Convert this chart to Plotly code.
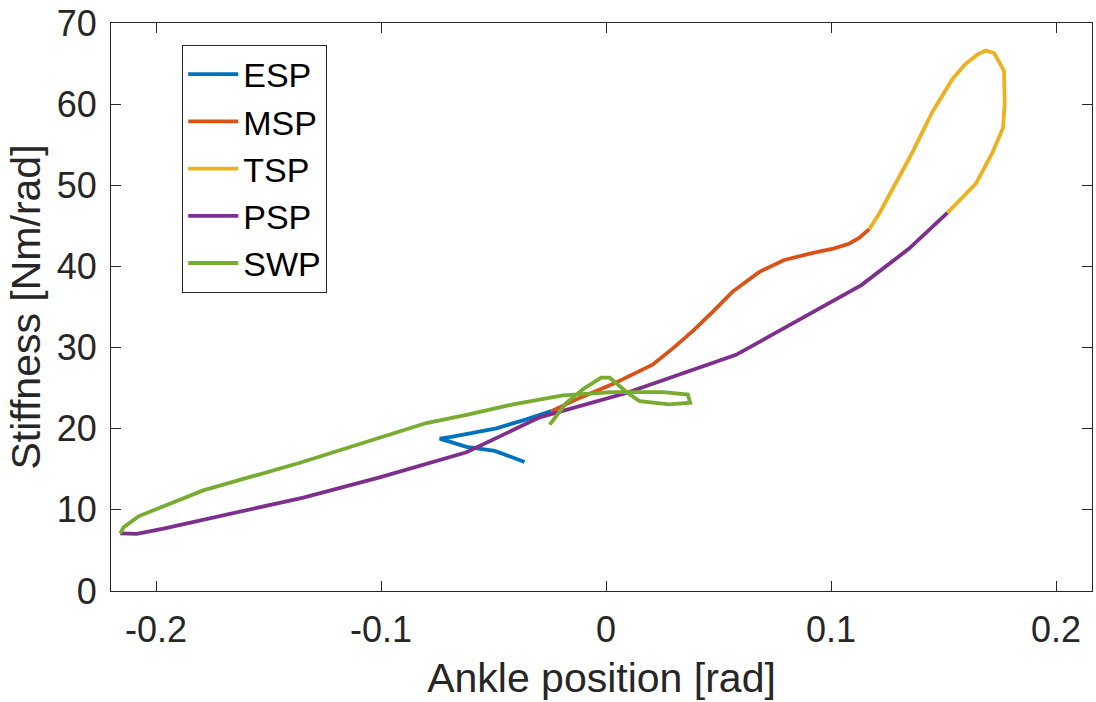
import plotly.graph_objects as go

# ---- data ----
esp_x = [-0.0362, -0.0494, -0.062, -0.0739, -0.0687, -0.0487, -0.0354, -0.0243]
esp_y = [15.9, 17.27, 17.76, 18.78, 18.98, 20.05, 21.15, 22.17]

msp_x = [-0.0243, -0.0117, 0.003, 0.0207, 0.0297, 0.0384, 0.0474, 0.0563, 0.068, 0.0792, 0.0925, 0.101, 0.108, 0.1125, 0.117]
msp_y = [22.17, 23.8, 25.5, 27.9, 29.9, 32.0, 34.4, 36.9, 39.3, 40.8, 41.7, 42.2, 42.8, 43.5, 44.6]

tsp_x = [0.117, 0.1214, 0.1355, 0.145, 0.154, 0.1596, 0.165, 0.1688, 0.1725, 0.1747, 0.1769, 0.1772, 0.1765, 0.1717, 0.1644, 0.1517]
tsp_y = [44.6, 46.5, 53.7, 59.0, 63.1, 64.9, 66.1, 66.6, 66.3, 65.3, 64.1, 60.2, 57.1, 54.0, 50.2, 46.6]

psp_x = [0.1517, 0.1347, 0.1135, 0.0578, 0.009, -0.0295, -0.062, -0.1006, -0.1345, -0.170, -0.1967, -0.2085, -0.2159]
psp_y = [46.6, 42.2, 37.7, 29.1, 24.4, 21.4, 17.1, 14.0, 11.5, 9.3, 7.7, 7.04, 7.1]

swp_x = [-0.2159, -0.2144, -0.2078, -0.1952, -0.179, -0.136, -0.1006, -0.0798, -0.062, -0.0413, -0.0191,
         0.003, 0.0253, 0.0364, 0.0374, 0.0282, 0.0149, 0.0097, 0.0016, -0.0021, -0.0095, -0.0176, -0.025]
swp_y = [7.1, 7.85, 9.2, 10.6, 12.4, 15.8, 18.9, 20.7, 21.7, 23.0, 24.1,
         24.5, 24.5, 24.2, 23.2, 23.0, 23.4, 24.4, 26.3, 26.3, 25.0, 23.2, 20.5]

series = [
    ("ESP", esp_x, esp_y, "#0072BD"),
    ("MSP", msp_x, msp_y, "#D95319"),
    ("TSP", tsp_x, tsp_y, "#EDB120"),
    ("PSP", psp_x, psp_y, "#7E2F8E"),
    ("SWP", swp_x, swp_y, "#77AC30"),
]

x_ticks = [-0.2, -0.1, 0, 0.1, 0.2]
x_tick_labels = ["-0.2", "-0.1", "0", "0.1", "0.2"]
y_ticks = [0, 10, 20, 30, 40, 50, 60, 70]

fig = go.Figure()
for name, xs, ys, col in series:
    fig.add_trace(go.Scatter(x=xs, y=ys, mode="lines", name=name,
                             line=dict(color=col, width=3.8)))

font_family = "Liberation Sans, Arial, sans-serif"
axis_col = "#262626"

fig.update_layout(
    width=1096, height=702,
    margin=dict(l=111, r=3, t=20, b=111),
    paper_bgcolor="white", plot_bgcolor="white",
    font=dict(family=font_family, color=axis_col, size=34),
    showlegend=True,
    legend=dict(
        x=0.0726, y=0.962, xanchor="left", yanchor="top",
        bgcolor="white", bordercolor=axis_col, borderwidth=1,
        font=dict(size=34, color="black", family=font_family),
        tracegroupgap=0, itemwidth=50,
    ),
)
fig.update_xaxes(
    range=[-0.22, 0.216], tickvals=x_ticks, ticktext=x_tick_labels,
    showgrid=False, zeroline=False, showline=True, linecolor=axis_col, linewidth=1,
    mirror="ticks", ticks="inside", ticklen=10, tickcolor=axis_col,
    tickfont=dict(size=36, color=axis_col), ticklabelstandoff=7,
    ticklabeloverflow="allow",
    title=dict(text="Ankle position [rad]", font=dict(size=41, color=axis_col), standoff=14),
)
fig.update_yaxes(
    range=[0, 70], tickvals=y_ticks,
    showgrid=False, zeroline=False, showline=True, linecolor=axis_col, linewidth=1,
    mirror="ticks", ticks="inside", ticklen=10, tickcolor=axis_col,
    tickfont=dict(size=36, color=axis_col), ticklabelstandoff=6,
    ticklabeloverflow="allow",
    title=dict(text="Stiffness [Nm/rad]", font=dict(size=41, color=axis_col), standoff=3),
)

fig.write_html("out.html")
